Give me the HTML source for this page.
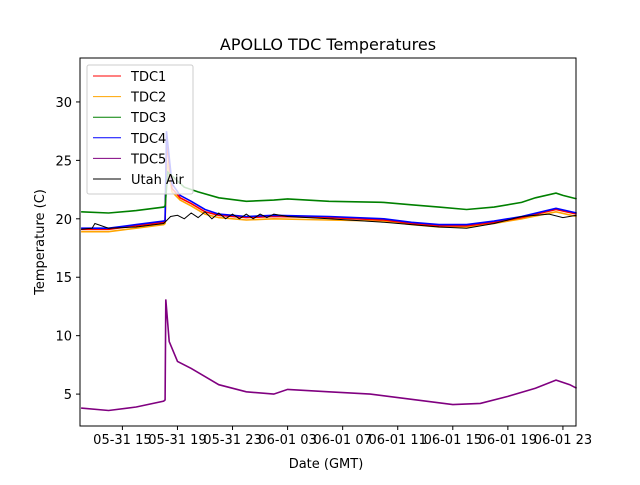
<!DOCTYPE html>
<html><head><meta charset="utf-8"><style>
body{margin:0;background:#fff;font-family:"Liberation Sans","DejaVu Sans",sans-serif}
svg text{font-family:"DejaVu Sans","Liberation Sans",sans-serif}
</style></head><body>
<svg id="c" width="640" height="480">
<rect width="640" height="480" fill="#fff"/>
<text x="328" y="50" font-size="16" text-anchor="middle">APOLLO TDC Temperatures</text>
<g id="series"></g>
<rect x="80" y="58" width="496" height="368" fill="none" stroke="#000" stroke-width="1"/>
<g id="axes"></g>
<text x="326" y="468" font-size="13" text-anchor="middle">Date (GMT)</text>
<text transform="translate(44,242) rotate(-90)" font-size="13" text-anchor="middle">Temperature (C)</text>
<g id="legend"></g>
</svg>
<script>
const xTicks=[15,19,23,27,31,35,39,43,47];
const xTickLabels=["05-31 15","05-31 19","05-31 23","06-01 03","06-01 07","06-01 11","06-01 15","06-01 19","06-01 23"];
const yTicks=[5,10,15,20,25,30];
const seriesNames=["TDC1","TDC2","TDC3","TDC4","TDC5","Utah Air"];
const seriesColors=["#ff0000","#ffa500","#008000","#0000ff","#800080","#000000"];
const tBlue=[12,14,16,18,18.1,18.2,18.6,19.2,20,21,22,24,26,30,34,36,38,40,42,44,46.5,48];
const vBlue=[19.2,19.2,19.5,19.8,19.9,27.5,23,22,21.5,20.8,20.4,20.2,20.3,20.2,20.0,19.7,19.5,19.5,19.8,20.2,20.9,20.5];
const vRed=[19.1,19.1,19.4,19.7,19.8,26.5,22.6,21.8,21.3,20.6,20.3,20.1,20.2,20.1,19.9,19.6,19.4,19.4,19.7,20.1,20.8,20.4];
const vOrange=[18.9,18.9,19.2,19.5,19.6,25,22.3,21.6,21.1,20.4,20.1,19.9,20.0,19.9,19.8,19.5,19.3,19.3,19.6,20.0,20.6,20.2];
const tGreen=[12,14,16,18,18.1,18.3,19.5,20.5,22,24,26,27,30,34,36,38,40,42,44,45,46.5,47,48];
const vGreen=[20.6,20.5,20.7,21.0,21.1,24,22.7,22.3,21.8,21.5,21.6,21.7,21.5,21.4,21.2,21.0,20.8,21.0,21.4,21.8,22.2,22.0,21.7];
const tPurple=[12,14,16,18,18.1,18.15,18.4,19,20,21,22,24,26,27,30,33,35,37,39,41,43,45,46.5,47.5,48];
const vPurple=[3.8,3.6,3.9,4.4,4.5,13.1,9.5,7.8,7.2,6.5,5.8,5.2,5.0,5.4,5.2,5.0,4.7,4.4,4.1,4.2,4.8,5.5,6.2,5.8,5.5];
const tAir=[12,12.8,13,14,16,18,18.5,19,19.5,20,20.5,21,21.5,22,22.5,23,23.5,24,24.5,25,25.5,26,27,30,34,38,40,42,44,46,47,48];
const vAir=[19.1,19.2,19.6,19.2,19.3,19.6,20.2,20.3,20.0,20.5,20.1,20.6,20.0,20.5,20.0,20.4,20.0,20.4,20.0,20.4,20.1,20.4,20.2,20.0,19.7,19.3,19.2,19.6,20.2,20.4,20.1,20.3];
const X0=80,X1=576,Y0=426,Y1=58,xmin=11.92,xmax=47.95,ymin=2.27,ymax=33.76;
const sx=t=>X0+(t-xmin)/(xmax-xmin)*(X1-X0);
const sy=v=>Y0-(v-ymin)/(ymax-ymin)*(Y0-Y1);
const NS="http://www.w3.org/2000/svg";
function mk(tag,attrs,parent){const e=document.createElementNS(NS,tag);for(const k in attrs)e.setAttribute(k,attrs[k]);parent.appendChild(e);return e;}
const sg=document.getElementById('series');
const data=[[tBlue,vOrange,1],[tBlue,vRed,0],[tBlue,vBlue,3],[tGreen,vGreen,2],[tPurple,vPurple,4],[tAir,vAir,5]];
data.forEach(([t,v,i])=>{
  const p=mk('polyline',{points:t.map((tt,j)=>sx(tt).toFixed(1)+','+sy(v[j]).toFixed(1)).join(' '),fill:'none',stroke:seriesColors[i],'stroke-width':i==5?1:1.6},sg);
  
  
});
const ax=document.getElementById('axes');
xTicks.forEach((t,i)=>{
  const l=mk('line',{x1:sx(t),x2:sx(t),y1:426,y2:430,stroke:'#000'},ax);
  
  
  const tx=mk('text',{x:sx(t),y:444,'font-size':13,'text-anchor':'middle'},ax);
  tx.textContent=xTickLabels[i];
  
  
});
yTicks.forEach(v=>{
  const l=mk('line',{x1:76,x2:80,y1:sy(v),y2:sy(v),stroke:'#000'},ax);
  
  
  const tx=mk('text',{x:72,y:sy(v)+5,'font-size':13,'text-anchor':'end'},ax);
  tx.textContent=v;
  
  
});
const lg=document.getElementById('legend');
const box=mk('rect',{x:87,y:65,width:106,height:129,rx:2,fill:'#fff','fill-opacity':0.8,stroke:'#ccc'},lg);


seriesNames.forEach((n,i)=>{
  const y=76+i*20.6;
  const l=mk('line',{x1:93,x2:121,y1:y,y2:y,stroke:seriesColors[i],'stroke-width':1},lg);
  
  
  const tx=mk('text',{x:131,y:y+5,'font-size':13},lg);
  tx.textContent=n;
  
  
});
</script>
</body></html>
